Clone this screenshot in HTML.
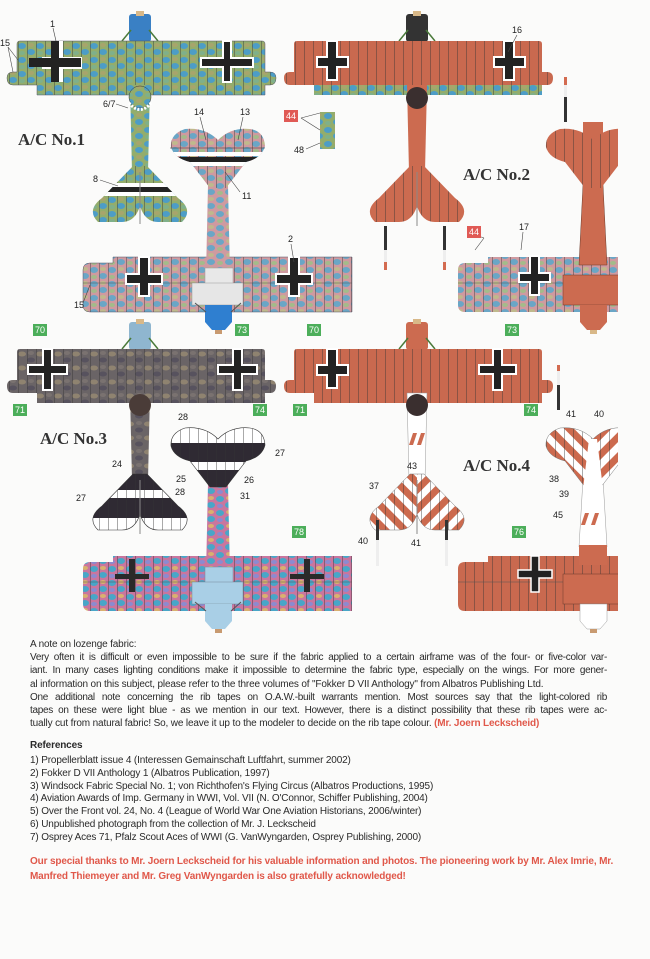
<!DOCTYPE html>
<html><head><meta charset="utf-8"><style>
html,body{margin:0;padding:0;background:#fbfbfa;}
body{width:650px;height:959px;position:relative;overflow:hidden;font-family:"Liberation Sans",sans-serif;}
svg{position:absolute;left:0;top:0}
.t{position:absolute;left:30px;width:577px;font-size:10px;letter-spacing:-0.15px;color:#2a2a2a;white-space:nowrap;line-height:12px}
.j{text-align:justify;text-align-last:justify;white-space:normal;height:12px;overflow:hidden;letter-spacing:-0.3px}
.r{color:#e0584a;font-weight:bold}
</style></head><body>
<svg width="650" height="959" viewBox="0 0 650 959" font-family="Liberation Sans, sans-serif">
<defs>
<pattern id="pg" patternUnits="userSpaceOnUse" width="18" height="14">
<rect width="18" height="14" fill="#93ad6c"/>
<ellipse cx="4" cy="4" rx="4" ry="3" fill="#4d9dc6"/><ellipse cx="13" cy="10" rx="4" ry="3" fill="#4d9dc6"/>
<ellipse cx="13" cy="3" rx="3" ry="2" fill="#a7a56c"/><ellipse cx="4" cy="11" rx="3" ry="2" fill="#7fb08a"/>
</pattern>
<pattern id="pp" patternUnits="userSpaceOnUse" width="18" height="14">
<rect width="18" height="14" fill="#cf9aa0"/>
<ellipse cx="4" cy="4" rx="4" ry="3" fill="#6aa6c6"/><ellipse cx="13" cy="10" rx="4" ry="3" fill="#6aa6c6"/>
<ellipse cx="13" cy="3" rx="3" ry="2" fill="#bfb98c"/><ellipse cx="4" cy="11" rx="3" ry="2" fill="#a4bb8a"/>
</pattern>
<pattern id="pd" patternUnits="userSpaceOnUse" width="18" height="14">
<rect width="18" height="14" fill="#6a6466"/>
<ellipse cx="4" cy="4" rx="4" ry="2.5" fill="#8f8370"/><ellipse cx="13" cy="10" rx="4" ry="2.5" fill="#57525e"/>
<ellipse cx="13" cy="3" rx="3" ry="2" fill="#7a7270"/>
</pattern>
<pattern id="pm" patternUnits="userSpaceOnUse" width="18" height="14">
<rect width="18" height="14" fill="#c9769e"/>
<ellipse cx="4" cy="4" rx="4" ry="3" fill="#48a6c8"/><ellipse cx="13" cy="10" rx="4" ry="3" fill="#48a6c8"/>
<ellipse cx="13" cy="3" rx="3" ry="2" fill="#d9b16e"/><ellipse cx="4" cy="11" rx="3" ry="2" fill="#8c8ad0"/>
</pattern>
<pattern id="ribs" patternUnits="userSpaceOnUse" width="9" height="20">
<line x1="0.5" y1="0" x2="0.5" y2="20" stroke="#333" stroke-width="0.7" opacity="0.6"/>
</pattern>
<pattern id="chev" patternUnits="userSpaceOnUse" width="14" height="14" patternTransform="rotate(45)">
<rect width="14" height="14" fill="#fff"/><rect width="7" height="14" fill="#cc6a4e"/>
</pattern>
<pattern id="chev2" patternUnits="userSpaceOnUse" width="14" height="14" patternTransform="rotate(-45)">
<rect width="14" height="14" fill="#fff"/><rect width="7" height="14" fill="#cc6a4e"/>
</pattern>
<path id="wing" d="M17,44 Q17,41 20,41 L262,41 Q265,41 265,44 L265,72 L270,72 Q276,72 276,78 Q276,85 270,85 L265,85 L265,95 L37,95 L37,85 L13,85 Q7,85 7,78 Q7,72 13,72 L17,72 Z"/>
<path id="fus" d="M130,85 L150,85 L148,172 L132,172 Z"/>
<path id="tail" d="M133,166 L147,166 L178,198 Q194,210 182,222 L158,222 Q145,222 140,206 Q135,222 122,222 L98,222 Q86,210 102,198 Z"/>
<path id="btail" d="M218,140 Q205,127 185,129 Q170,134 171,147 Q174,158 190,162 L210,188 L226,188 L246,162 Q262,158 265,146 Q264,131 250,129 Q231,127 218,140 Z"/>
<path id="bfus" d="M208,185 L228,185 L230,275 L206,275 Z"/>
<path id="bwing" d="M113,257 L352,257 L352,312 L90,312 Q83,312 83,305 L83,270 Q83,263 90,263 L113,263 Z"/>
<g id="eng"><rect x="129" y="14" width="22" height="28" rx="3"/><line x1="122" y1="41" x2="131" y2="30" stroke="#4a7a3a" stroke-width="1.5"/><line x1="158" y1="41" x2="149" y2="30" stroke="#4a7a3a" stroke-width="1.5"/></g>
<clipPath id="cr"><rect x="0" y="0" width="618" height="959"/></clipPath>
<clipPath id="ct"><use href="#tail"/></clipPath>
<clipPath id="cbt"><use href="#btail"/></clipPath>
</defs>

<!-- ===== PLANE 1 TOP ===== -->
<g>
<use href="#eng" fill="#3a80c4"/><rect x="136" y="11" width="8" height="5" fill="#d8b888"/>
<use href="#wing" fill="url(#pg)"/><use href="#wing" fill="url(#ribs)" stroke="#556" stroke-width="0.5"/>
<use href="#fus" fill="url(#pg)"/><circle cx="140" cy="97" r="11" fill="url(#pg)" stroke="#333" stroke-width="0.5"/>
<path d="M129,103 Q140,116 151,103" fill="none" stroke="#fff" stroke-width="3" stroke-dasharray="2 1.5"/>
<use href="#tail" fill="url(#pg)"/><use href="#tail" fill="url(#ribs)"/>
<g clip-path="url(#ct)"><rect x="80" y="183" width="120" height="4" fill="#fff"/><rect x="80" y="187" width="120" height="5" fill="#222"/><rect x="80" y="192" width="120" height="4" fill="#fff"/></g>
<line x1="140" y1="172" x2="140" y2="224" stroke="#888" stroke-width="1"/>
<path d="M42,57 h9 v-16 h12 v16 h19 v12 h-19 v13 h-12 v-13 h-9 z" fill="#fff"/>
<path d="M29,58 h22 v-17 h8 v17 h22 v9 h-22 v15 h-8 v-15 h-22 z" fill="#222"/>
<g transform="translate(172,0)"><path d="M29,58 h22 v-17 h8 v17 h22 v9 h-22 v15 h-8 v-15 h-22 z" fill="#222" stroke="#fff" stroke-width="2"/></g>
</g>
<!-- PLANE 1 BOTTOM -->
<g>
<use href="#bwing" fill="url(#pp)"/><use href="#bwing" fill="url(#ribs)" stroke="#556" stroke-width="0.5"/>
<line x1="83" y1="283" x2="352" y2="283" stroke="#555" stroke-width="0.5"/>
<use href="#bfus" fill="url(#pp)"/>
<use href="#btail" fill="url(#pp)"/><use href="#btail" fill="url(#ribs)"/>
<g clip-path="url(#cbt)"><rect x="160" y="152" width="120" height="4" fill="#fff"/><rect x="160" y="157" width="120" height="5" fill="#222"/><rect x="160" y="162" width="120" height="4" fill="#fff"/></g>
<line x1="170" y1="148" x2="265" y2="148" stroke="#333" stroke-width="0.6"/>
<rect x="205" y="268" width="28" height="16" fill="#e8e8e8" stroke="#999" stroke-width="0.5"/>
<rect x="192" y="283" width="51" height="22" fill="#e6e6e6" stroke="#999" stroke-width="0.5"/>
<path d="M205,305 L232,305 L232,322 L225,330 L212,330 L205,322 Z" fill="#2f7fd0"/>
<line x1="195" y1="303" x2="206" y2="312" stroke="#555"/><line x1="241" y1="303" x2="231" y2="312" stroke="#555"/>
<rect x="215" y="330" width="7" height="4" fill="#c89a70"/>
<path d="M126,274 h13 v-17 h10 v17 h13 v10 h-13 v12 h-10 v-12 h-13 z" fill="#222" stroke="#fff" stroke-width="2"/>
<path d="M276,274 h13 v-17 h10 v17 h13 v10 h-13 v12 h-10 v-12 h-13 z" fill="#222" stroke="#fff" stroke-width="2"/>
</g>

<!-- ===== PLANE 2 TOP ===== -->
<g transform="translate(277,0)">
<use href="#eng" fill="#333"/><rect x="136" y="11" width="8" height="5" fill="#d8b888"/>
<use href="#wing" fill="#c9694f"/><use href="#wing" fill="url(#ribs)"/>
<path d="M37,85 L265,85 L265,95 L37,95 Z" fill="url(#pg)"/><path d="M37,85 L265,85 L265,95 L37,95 Z" fill="url(#ribs)"/>
<use href="#fus" fill="#cc6b50"/><circle cx="140" cy="98" r="11" fill="#3a2f2f"/>
<use href="#tail" fill="#cc6b50"/><use href="#tail" fill="url(#ribs)"/>
<line x1="140" y1="172" x2="140" y2="226" stroke="#888"/>
<path d="M40,57 h10 v-16 h10 v16 h11 v10 h-11 v13 h-10 v-13 h-10 z" fill="#222" stroke="#fff" stroke-width="2"/>
<path d="M217,57 h10 v-16 h10 v16 h11 v10 h-11 v13 h-10 v-13 h-10 z" fill="#222" stroke="#fff" stroke-width="2"/>
<rect x="107" y="226" width="3" height="44" fill="#333"/><rect x="107" y="250" width="3" height="12" fill="#eee"/><rect x="107" y="262" width="3" height="8" fill="#d36b50"/>
<rect x="166" y="226" width="3" height="44" fill="#333"/><rect x="166" y="250" width="3" height="12" fill="#eee"/><rect x="166" y="262" width="3" height="8" fill="#d36b50"/>
</g>
<rect x="320" y="112" width="15" height="37" fill="url(#pg)"/>
<!-- PLANE 2 BOTTOM -->
<g clip-path="url(#cr)"><g transform="translate(375,0)">
<use href="#bwing" fill="url(#pp)"/><use href="#bwing" fill="url(#ribs)"/>
<line x1="83" y1="283" x2="352" y2="283" stroke="#555" stroke-width="0.5"/>
<path d="M208,185 L228,185 L232,265 L204,265 Z" fill="#cc6b50" stroke="#6a3a2a" stroke-width="0.5"/>
<rect x="208" y="122" width="20" height="70" fill="#cc6b50"/>
<use href="#btail" fill="#cc6b50"/><use href="#btail" fill="url(#ribs)"/>
<rect x="188" y="275" width="60" height="30" fill="#cc6b50" stroke="#6a3a2a" stroke-width="0.5"/>
<path d="M205,305 L232,305 L232,322 L225,330 L212,330 L205,322 Z" fill="#cc6b50"/>
<rect x="215" y="330" width="7" height="4" fill="#d8b888"/>
<rect x="189" y="77" width="3" height="45" fill="#333"/><rect x="189" y="77" width="3" height="20" fill="#eee"/><rect x="189" y="77" width="3" height="8" fill="#d36b50"/>
<path d="M144,273 h11 v-17 h9 v17 h11 v9 h-11 v13 h-9 v-13 h-11 z" fill="#222" stroke="#fff" stroke-width="2"/>
</g></g>

<!-- ===== PLANE 3 TOP ===== -->
<g transform="translate(0,308)">
<use href="#eng" fill="#8fb6cf"/><rect x="136" y="11" width="8" height="5" fill="#d8b888"/>
<use href="#wing" fill="url(#pd)"/><use href="#wing" fill="url(#ribs)"/>
<use href="#fus" fill="url(#pd)"/><circle cx="140" cy="97" r="11" fill="#4a3c38"/>
<use href="#tail" fill="#2f2a33"/>
<g clip-path="url(#ct)"><rect x="80" y="182" width="120" height="8" fill="#fff"/><rect x="80" y="210" width="120" height="14" fill="#fff"/></g>
<use href="#tail" fill="url(#ribs)" stroke="#333" stroke-width="0.6"/>
<line x1="140" y1="172" x2="140" y2="226" stroke="#888"/>
<path d="M28,57 h15 v-16 h9 v16 h15 v9 h-15 v16 h-9 v-16 h-15 z" fill="#222" stroke="#fff" stroke-width="2"/>
<path d="M218,57 h15 v-16 h9 v16 h15 v9 h-15 v16 h-9 v-16 h-15 z" fill="#222" stroke="#fff" stroke-width="2"/>
</g>
<!-- PLANE 3 BOTTOM -->
<g transform="translate(0,299)">
<use href="#bwing" fill="url(#pm)"/><use href="#bwing" fill="url(#ribs)"/>
<line x1="83" y1="283" x2="352" y2="283" stroke="#555" stroke-width="0.5"/>
<use href="#bfus" fill="url(#pm)"/>
<use href="#btail" fill="#2f2a33"/>
<g clip-path="url(#cbt)"><rect x="160" y="120" width="120" height="24" fill="#fff"/><rect x="160" y="163" width="120" height="8" fill="#fff"/></g>
<use href="#btail" fill="url(#ribs)" stroke="#333" stroke-width="0.6"/>
<rect x="205" y="268" width="28" height="16" fill="#a9cfe6" stroke="#789" stroke-width="0.5"/>
<rect x="192" y="283" width="51" height="22" fill="#a9cfe6" stroke="#789" stroke-width="0.5"/>
<path d="M205,305 L232,305 L232,322 L225,330 L212,330 L205,322 Z" fill="#a9cfe6"/>
<line x1="195" y1="303" x2="206" y2="312" stroke="#555"/><line x1="241" y1="303" x2="231" y2="312" stroke="#555"/>
<rect x="215" y="330" width="7" height="4" fill="#c89a70"/>
<path d="M115,275 h14 v-15 h6 v15 h14 v5 h-14 v13 h-6 v-13 h-14 z" fill="#2a2a2a"/>
<path d="M290,275 h14 v-15 h6 v15 h14 v5 h-14 v13 h-6 v-13 h-14 z" fill="#2a2a2a"/>
</g>

<!-- ===== PLANE 4 TOP ===== -->
<g transform="translate(277,308)">
<use href="#eng" fill="#cc6b50"/><rect x="136" y="11" width="8" height="5" fill="#d8b888"/>
<use href="#wing" fill="#c9694f"/><use href="#wing" fill="url(#ribs)"/>
<use href="#fus" fill="#fff" stroke="#999" stroke-width="0.5"/><circle cx="140" cy="97" r="11" fill="#3a2f2f"/>
<path d="M136,125 l4,0 l-4,12 l-4,0 z M144,125 l4,0 l-4,12 l-4,0 z" fill="#cc6b50"/>
<g clip-path="url(#ct)"><rect x="80" y="160" width="60" height="70" fill="url(#chev2)"/><rect x="140" y="160" width="60" height="70" fill="url(#chev)"/></g>
<use href="#tail" fill="url(#ribs)" stroke="#777" stroke-width="0.5"/>
<line x1="140" y1="172" x2="140" y2="226" stroke="#888"/>
<path d="M40,57 h10 v-16 h10 v16 h11 v10 h-11 v13 h-10 v-13 h-10 z" fill="#222" stroke="#fff" stroke-width="2"/>
<path d="M202,57 h14 v-16 h9 v16 h14 v9 h-14 v16 h-9 v-16 h-14 z" fill="#222" stroke="#fff" stroke-width="2"/>
<rect x="99" y="212" width="3" height="46" fill="#333"/><rect x="99" y="232" width="3" height="26" fill="#eee"/>
<rect x="168" y="212" width="3" height="46" fill="#333"/><rect x="168" y="232" width="3" height="26" fill="#eee"/>
</g>
<!-- PLANE 4 BOTTOM -->
<g clip-path="url(#cr)"><g transform="translate(375,299)">
<use href="#bwing" fill="#c9694f"/><use href="#bwing" fill="url(#ribs)"/>
<line x1="83" y1="283" x2="352" y2="283" stroke="#555" stroke-width="0.5"/>
<path d="M208,180 L228,180 L232,248 L204,248 Z" fill="#fff" stroke="#999" stroke-width="0.5"/>
<rect x="204" y="246" width="28" height="20" fill="#cc6b50"/>
<g clip-path="url(#cbt)"><rect x="160" y="120" width="58" height="75" fill="url(#chev2)"/><rect x="218" y="120" width="60" height="75" fill="url(#chev)"/></g>
<use href="#btail" fill="url(#ribs)" stroke="#777" stroke-width="0.5"/>
<path d="M214,140 L222,140 L228,190 L208,190 Z" fill="#fff"/>
<path d="M210,214 l4,0 l-4,12 l-4,0 z M220,214 l4,0 l-4,12 l-4,0 z" fill="#cc6b50"/>
<rect x="188" y="275" width="60" height="30" fill="#cc6b50" stroke="#6a3a2a" stroke-width="0.5"/>
<path d="M205,305 L232,305 L232,322 L225,330 L212,330 L205,322 Z" fill="#fff" stroke="#999" stroke-width="0.5"/>
<rect x="215" y="330" width="7" height="4" fill="#c89a70"/>
<rect x="182" y="66" width="3" height="45" fill="#333"/><rect x="182" y="66" width="3" height="20" fill="#eee"/><rect x="182" y="66" width="3" height="6" fill="#d36b50"/>
<path d="M143,271 h13 v-14 h8 v14 h13 v8 h-13 v14 h-8 v-14 h-13 z" fill="#222" stroke="#fff" stroke-width="1.5"/>
</g></g>

<!-- titles -->
<g font-family="Liberation Serif, serif" font-weight="bold" font-size="17" fill="#333">
<text x="18" y="145">A/C No.1</text><text x="463" y="180">A/C No.2</text>
<text x="40" y="444">A/C No.3</text><text x="463" y="471">A/C No.4</text>
</g>
<!-- labels -->
<g font-size="9" fill="#222" stroke="none">
<text x="50" y="27">1</text><text x="0" y="46">15</text><text x="103" y="107">6/7</text>
<text x="194" y="115">14</text><text x="240" y="115">13</text><text x="93" y="182">8</text>
<text x="242" y="199">11</text><text x="288" y="242">2</text><text x="74" y="308">15</text>
<text x="512" y="33">16</text><text x="294" y="153">48</text><text x="519" y="230">17</text>
<text x="112" y="467">24</text><text x="178" y="420">28</text><text x="275" y="456">27</text>
<text x="76" y="501">27</text><text x="175" y="495">28</text><text x="176" y="482">25</text>
<text x="244" y="483">26</text><text x="240" y="499">31</text>
<text x="407" y="469">43</text><text x="369" y="489">37</text><text x="358" y="544">40</text><text x="411" y="546">41</text>
<text x="566" y="417">41</text><text x="594" y="417">40</text><text x="549" y="482">38</text>
<text x="559" y="497">39</text><text x="553" y="518">45</text>
</g>
<g stroke="#444" stroke-width="0.6" fill="none">
<path d="M53,28 L56,41"/><path d="M8,47 L13,72 M8,47 L18,60"/><path d="M116,104 L128,108"/>
<path d="M200,117 L206,140"/><path d="M243,117 L238,140"/><path d="M100,180 L118,186"/>
<path d="M240,192 L225,172"/><path d="M291,244 L294,262"/><path d="M83,303 L90,285"/>
<path d="M517,35 L508,52"/><path d="M301,118 L320,113 M301,118 L320,130"/><path d="M306,149 L320,143"/>
<path d="M484,238 L470,233 M484,238 L475,250"/><path d="M523,232 L521,250"/>
</g>
<!-- colored boxes -->
<g font-size="9" fill="#fff" text-anchor="middle">
<rect x="284" y="110" width="14" height="12" fill="#e05a55"/><text x="291" y="119">44</text>
<rect x="467" y="226" width="14" height="12" fill="#e05a55"/><text x="474" y="235">44</text>
<g fill="#4cae5a"><rect x="33" y="324" width="14" height="12"/><rect x="235" y="324" width="14" height="12"/><rect x="307" y="324" width="14" height="12"/><rect x="505" y="324" width="14" height="12"/><rect x="13" y="404" width="14" height="12"/><rect x="253" y="404" width="14" height="12"/><rect x="293" y="404" width="14" height="12"/><rect x="524" y="404" width="14" height="12"/><rect x="292" y="526" width="14" height="12"/><rect x="512" y="526" width="14" height="12"/></g>
<text x="40" y="333">70</text><text x="242" y="333">73</text><text x="314" y="333">70</text><text x="512" y="333">73</text>
<text x="20" y="413">71</text><text x="260" y="413">74</text><text x="300" y="413">71</text><text x="531" y="413">74</text>
<text x="299" y="535">78</text><text x="519" y="535">76</text>
</g>
</svg>

<div class="t" style="top:639px">A note on lozenge fabric:</div>
<div class="t j" style="top:652px">Very often it is difficult or even impossible to be sure if the fabric applied to a certain airframe was of the four- or five-color var-</div>
<div class="t j" style="top:665px">iant. In many cases lighting conditions make it impossible to determine the fabric type, especially on the wings. For more gener-</div>
<div class="t" style="top:679px">al information on this subject, please refer to the three volumes of "Fokker D VII Anthology" from Albatros Publishing Ltd.</div>
<div class="t j" style="top:692px">One additional note concerning the rib tapes on O.A.W.-built warrants mention. Most sources say that the light-colored rib</div>
<div class="t j" style="top:705px">tapes on these were light blue - as we mention in our text. However, there is a distinct possibility that these rib tapes were ac-</div>
<div class="t" style="top:718px">tually cut from natural fabric! So, we leave it up to the modeler to decide on the rib tape colour. <span class="r">(Mr. Joern Leckscheid)</span></div>
<div class="t" style="top:740px;font-weight:bold">References</div>
<div class="t" style="top:755px">1) Propellerblatt issue 4 (Interessen Gemainschaft Luftfahrt, summer 2002)</div>
<div class="t" style="top:768px">2) Fokker D VII Anthology 1 (Albatros Publication, 1997)</div>
<div class="t" style="top:781px">3) Windsock Fabric Special No. 1; von Richthofen's Flying Circus (Albatros Productions, 1995)</div>
<div class="t" style="top:793px">4) Aviation Awards of Imp. Germany in WWI, Vol. VII (N. O'Connor, Schiffer Publishing, 2004)</div>
<div class="t" style="top:806px">5) Over the Front vol. 24, No. 4 (League of World War One Aviation Historians, 2006/winter)</div>
<div class="t" style="top:819px">6) Unpublished photograph from the collection of Mr. J. Leckscheid</div>
<div class="t" style="top:832px">7) Osprey Aces 71, Pfalz Scout Aces of WWI (G. VanWyngarden, Osprey Publishing, 2000)</div>
<div class="t r" style="top:856px">Our special thanks to Mr. Joern Leckscheid for his valuable information and photos. The pioneering work by Mr. Alex Imrie, Mr.</div>
<div class="t r" style="top:871px">Manfred Thiemeyer and Mr. Greg VanWyngarden is also gratefully acknowledged!</div>
</body></html>
